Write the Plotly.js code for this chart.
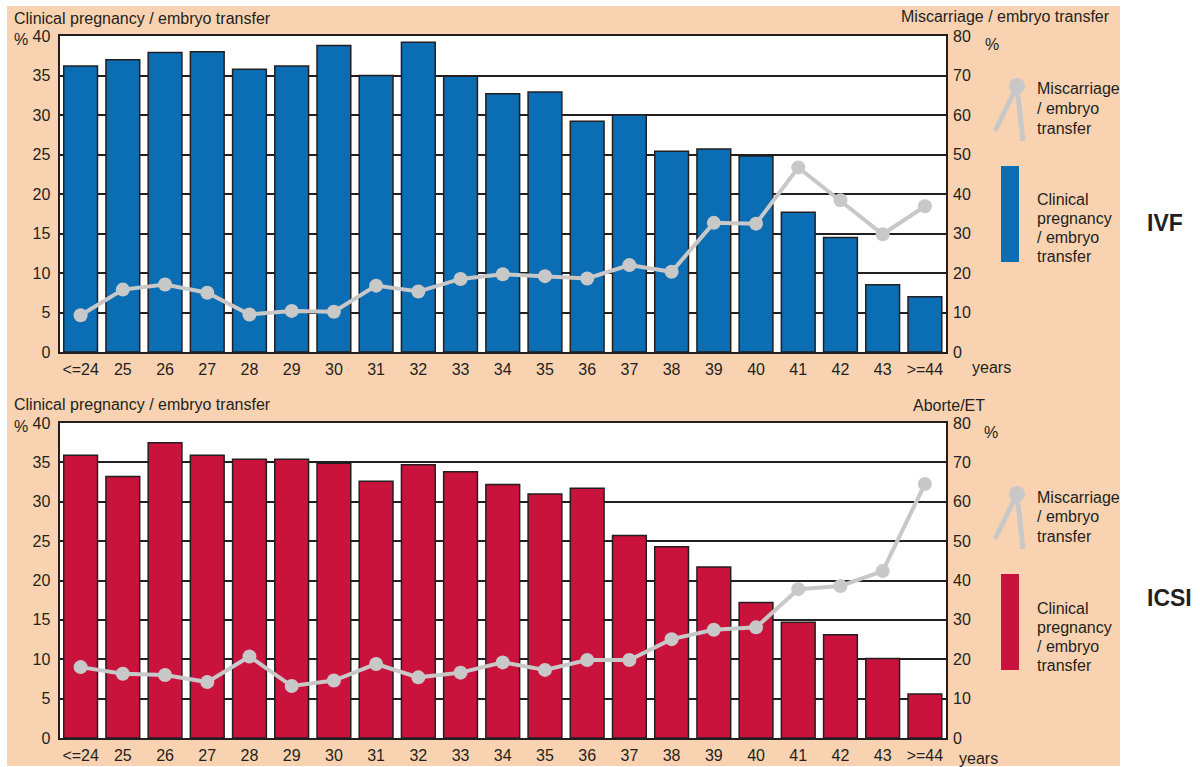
<!DOCTYPE html>
<html>
<head>
<meta charset="utf-8">
<script src="https://cdn.plot.ly/plotly-3.0.1.min.js"></script>
<style>html,body{margin:0;padding:0;background:#fff;}#chart{width:1200px;height:767px;}</style>
</head>
<body>
<div id="chart"></div>
<script>
// ---- data ----
const ageGroups = ['<=24','25','26','27','28','29','30','31','32','33','34','35','36','37','38','39','40','41','42','43','>=44'];
const ivfPregnancy   = [36.2,37.0,37.9,38.0,35.8,36.2,38.8,35.0,39.2,34.9,32.7,32.9,29.2,30.0,25.4,25.7,24.8,17.7,14.5,8.5,7.0];
const ivfMiscarriage = [9.3,15.8,17.1,15.0,9.5,10.4,10.2,16.8,15.3,18.5,19.7,19.2,18.6,22.0,20.3,32.7,32.5,46.7,38.4,29.8,36.9];
const icsiPregnancy   = [35.9,33.2,37.5,35.9,35.4,35.4,34.9,32.6,34.7,33.8,32.2,31.0,31.7,25.7,24.3,21.7,17.2,14.7,13.1,10.1,5.6];
const icsiMiscarriage = [18.0,16.3,16.0,14.2,20.7,13.2,14.6,18.8,15.4,16.6,19.2,17.3,19.8,19.8,25.1,27.5,28.1,37.8,38.6,42.4,64.5];
const leftTicks = [0,5,10,15,20,25,30,35,40];
const rightTicks = [0,10,20,30,40,50,60,70,80];

// ---- styling ----
const W = 1200, H = 767;
const px = x => x / W;
const py = y => 1 - y / H;
const INK = '#231f20';
const PEACH = '#f9d3b1';
const BLUE = '#0b6db3';
const RED = '#c9123c';
const GREY = '#c8c8c8';
const FONT = 'Liberation Sans, Arial, Helvetica, sans-serif';

function barTrace(y, color, xa, ya) {
  return {type:'bar', x: ageGroups, y: y, xaxis: xa, yaxis: ya, width: 0.8,
    marker:{color: color, line:{color: INK, width: 1.5}}, hoverinfo:'skip', showlegend:false};
}
function lineTrace(y, xa, ya) {
  return {type:'scatter', mode:'lines+markers', x: ageGroups, y: y, xaxis: xa, yaxis: ya,
    line:{color: GREY, width: 4}, marker:{color: GREY, size: 14}, hoverinfo:'skip', showlegend:false};
}

const data = [
  barTrace(ivfPregnancy, BLUE, 'x', 'y'),
  lineTrace(ivfMiscarriage, 'x', 'y2'),
  barTrace(icsiPregnancy, RED, 'x2', 'y3'),
  lineTrace(icsiMiscarriage, 'x2', 'y4')
];

const xDom = [px(59.5), px(946)];
function xAxis(anchor) {
  return {domain: xDom, anchor: anchor, type:'category', range:[-0.5, 20.5],
    showline:true, mirror:true, linecolor: INK, linewidth: 2, ticks:'', showgrid:false,
    tickfont:{size:16, color: INK}, ticklabelstandoff: 2, fixedrange:true};
}
function yLeft(domain, anchor) {
  return {domain: domain, anchor: anchor, range:[0,40], tickvals: leftTicks,
    showgrid:true, gridcolor: INK, gridwidth: 2, zeroline:false,
    showline:true, mirror:true, linecolor: INK, linewidth: 2, ticks:'',
    tickfont:{size:16, color: INK}, ticklabelstandoff: 4, fixedrange:true};
}
function yRight(over, anchor) {
  return {overlaying: over, anchor: anchor, side:'right', range:[0,80], tickvals: rightTicks,
    showgrid:false, zeroline:false, showline:false, ticks:'',
    tickfont:{size:16, color: INK}, ticklabelstandoff: 6, fixedrange:true};
}

function txt(text, x, y, xanchor, opts) {
  return Object.assign({text: text, x: px(x), y: py(y), xref:'paper', yref:'paper',
    xanchor: xanchor || 'left', yanchor:'middle', showarrow:false,
    font:{family: FONT, size:16, color: INK}}, opts || {});
}

function legendBlock(offset, barColor) {
  const o = offset;
  const shapes = [
    {type:'line', xref:'paper', yref:'paper', x0:px(1017), y0:py(86+o), x1:px(995), y1:py(131+o), line:{color:GREY, width:5}},
    {type:'line', xref:'paper', yref:'paper', x0:px(1017), y0:py(86+o), x1:px(1023), y1:py(141+o), line:{color:GREY, width:5}},
    {type:'circle', xref:'paper', yref:'paper', x0:px(1009), x1:px(1025), y0:py(94+o), y1:py(78+o), fillcolor:GREY, line:{width:0}},
    {type:'rect', xref:'paper', yref:'paper', x0:px(1001), x1:px(1019), y0:py(262+o), y1:py(166+o), fillcolor:barColor, line:{width:0}}
  ];
  const ann = [
    txt('Miscarriage', 1035, 89+o), txt('/ embryo', 1035, 108.5+o), txt('transfer', 1035, 128+o),
    txt('Clinical', 1035, 200+o), txt('pregnancy', 1035, 219+o), txt('/ embryo', 1035, 238+o), txt('transfer', 1035, 257+o)
  ];
  return {shapes, ann};
}

const legTop = legendBlock(0, BLUE);
const legBot = legendBlock(408, RED);

const shapes = [
  {type:'rect', xref:'paper', yref:'paper', x0:px(7), x1:px(1120), y0:py(766), y1:py(6), fillcolor:PEACH, line:{width:0}, layer:'below'},
  {type:'rect', xref:'paper', yref:'paper', x0:xDom[0], x1:xDom[1], y0:py(352), y1:py(36), fillcolor:'#ffffff', line:{width:0}, layer:'below'},
  {type:'rect', xref:'paper', yref:'paper', x0:xDom[0], x1:xDom[1], y0:py(738), y1:py(423), fillcolor:'#ffffff', line:{width:0}, layer:'below'}
].concat(legTop.shapes, legBot.shapes);

const annotations = [
  txt('Clinical pregnancy / embryo transfer', 12, 18),
  txt('%', 12, 40),
  txt('Miscarriage / embryo transfer', 1112, 17, 'right'),
  txt('%', 983, 44),
  txt('years', 970, 367),
  txt('<b>IVF</b>', 1145, 223, 'left', {font:{family: FONT, size:23, color: INK}}),
  txt('Clinical pregnancy / embryo transfer', 12, 404),
  txt('%', 12, 426),
  txt('Aborte/ET', 987, 406, 'right'),
  txt('%', 982, 432),
  txt('years', 957, 758),
  txt('<b>ICSI</b>', 1145, 598, 'left', {font:{family: FONT, size:23, color: INK}})
].concat(legTop.ann, legBot.ann);

const layout = {
  width: W, height: H,
  margin:{l:0, r:0, t:0, b:0},
  paper_bgcolor:'#ffffff', plot_bgcolor:'rgba(0,0,0,0)',
  font:{family: FONT, size:16, color: INK},
  showlegend:false, bargap: 0.2,
  xaxis: xAxis('y'),
  yaxis: yLeft([py(352), py(36)], 'x'),
  yaxis2: yRight('y', 'x'),
  xaxis2: xAxis('y3'),
  yaxis3: yLeft([py(738), py(423)], 'x2'),
  yaxis4: yRight('y3', 'x2'),
  shapes: shapes,
  annotations: annotations
};

Plotly.newPlot('chart', data, layout, {displayModeBar:false, staticPlot:true});
</script>
</body>
</html>
